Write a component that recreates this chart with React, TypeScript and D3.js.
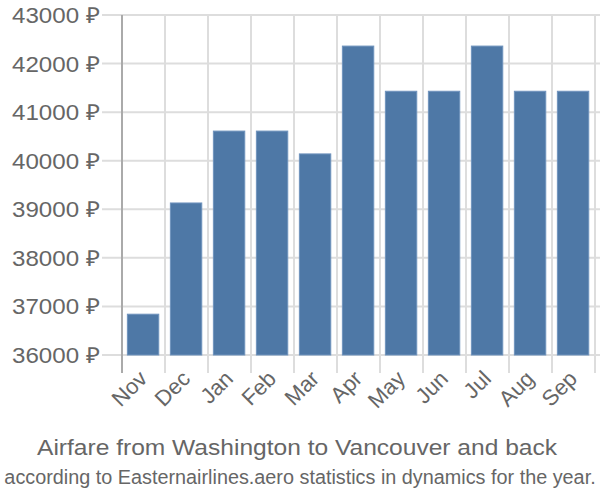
import React from "react";
import * as d3 from "d3";

const months = ["Nov", "Dec", "Jan", "Feb", "Mar", "Apr", "May", "Jun", "Jul", "Aug", "Sep"];
const prices = [36840, 39130, 40610, 40610, 40140, 42360, 41430, 41430, 42360, 41430, 41430];
const yTicks = [36000, 37000, 38000, 39000, 40000, 41000, 42000, 43000];
const title = "Airfare from Washington to Vancouver and back";
const subtitle = "according to Easternairlines.aero statistics in dynamics for the year.";

export default function App() {
  const W = 600, H = 500;
  const left = 122, right = 595, top = 15, bottom = 355;
  const x = d3.scaleBand<string>().domain(months).range([left, right]);
  const y = d3.scaleLinear().domain([36000, 43000]).range([bottom, top]);
  const bw = x.bandwidth();
  const font = "'Liberation Sans', Arial, sans-serif";
  return (
    <svg width={W} height={H} style={{ position: "absolute", left: 0, top: 0 }}>
      <rect width={W} height={H} fill="#fff" />
      {yTicks.map((t) => (
        <g key={t}>
          <line x1={102} x2={W} y1={y(t)} y2={y(t)} stroke="#ddd" strokeWidth={2} />
          <text x={100} y={y(t) + 8} textAnchor="end" fontSize={22} fill="#666" fontFamily={font}
            textLength={88} lengthAdjust="spacingAndGlyphs">
            {t} ₽
          </text>
        </g>
      ))}
      {months.map((m, i) => (
        <line key={m} x1={x(m)!} x2={x(m)!} y1={top} y2={373} stroke={i === 0 ? "#aaa" : "#ddd"} strokeWidth={2} />
      ))}
      <line x1={right} x2={right} y1={top} y2={373} stroke="#ddd" strokeWidth={2} />
      {months.map((m, i) => (
        <rect
          key={m}
          x={x(m)! + bw * 0.125}
          y={y(prices[i])}
          width={bw * 0.73}
          height={y(36000) - y(prices[i])}
          fill="#4e78a6"
          stroke="#6f93bd"
          strokeWidth={1}
        />
      ))}
      <line x1={left} x2={left} y1={top} y2={373} stroke="#aaa" strokeWidth={2} />
      {months.map((m) => {
        const cx = x(m)! + bw / 2 + 5;
        const cy = 380;
        return (
          <text
            key={m}
            x={cx}
            y={cy}
            transform={`rotate(-45 ${cx} ${cy})`}
            textAnchor="end"
            fontSize={22}
            fill="#666"
            fontFamily={font}
          >
            {m}
          </text>
        );
      })}
      <text x={297} y={455} textAnchor="middle" fontSize={22} fill="#666" fontFamily={font}
        textLength={520} lengthAdjust="spacingAndGlyphs">
        {title}
      </text>
      <text transform="translate(300,484) scale(0.944,1)" textAnchor="middle" fontSize={21} fill="#666" fontFamily={font}>
        {subtitle}
      </text>
    </svg>
  );
}
